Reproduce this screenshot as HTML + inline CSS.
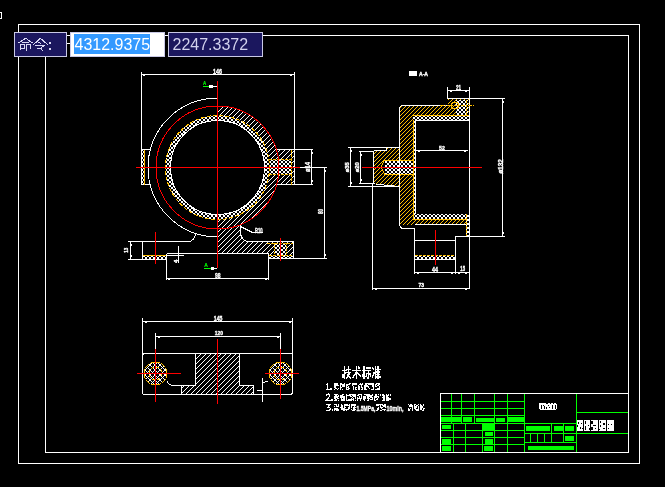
<!DOCTYPE html>
<html><head><meta charset="utf-8">
<style>
html,body{margin:0;padding:0;background:#000;width:665px;height:487px;overflow:hidden}
svg{display:block;will-change:transform}
.t{font-family:"Liberation Sans",sans-serif;fill:#fff}
.d text{font-weight:bold;stroke:#fff;stroke-width:0.35}
</style></head>
<body>
<svg width="665" height="487" viewBox="0 0 665 487" shape-rendering="crispEdges">
<defs>
<pattern id="hw" width="5" height="5" patternUnits="userSpaceOnUse"><g fill="#fff"><rect x="4" y="0" width="1" height="1"/><rect x="3" y="1" width="1" height="1"/><rect x="2" y="2" width="1" height="1"/><rect x="1" y="3" width="1" height="1"/><rect x="0" y="4" width="1" height="1"/></g></pattern>
<pattern id="hy" width="4" height="4" patternUnits="userSpaceOnUse"><g fill="#ffbf00"><rect x="3" y="0" width="1" height="1"/><rect x="2" y="1" width="1" height="1"/><rect x="1" y="2" width="1" height="1"/><rect x="0" y="3" width="1" height="1"/></g></pattern>
<pattern id="xw" width="4" height="4" patternUnits="userSpaceOnUse"><g fill="#fff"><rect x="0" y="0" width="1" height="1"/><rect x="1" y="1" width="1" height="1"/><rect x="2" y="2" width="1" height="1"/><rect x="3" y="3" width="1" height="1"/><rect x="3" y="0" width="1" height="1"/><rect x="2" y="1" width="1" height="1"/><rect x="1" y="2" width="1" height="1"/><rect x="0" y="3" width="1" height="1"/></g></pattern>
<pattern id="xn" width="5" height="5" patternUnits="userSpaceOnUse"><g fill="#fff"><rect x="0" y="0" width="1" height="1"/><rect x="1" y="1" width="1" height="1"/><rect x="2" y="2" width="1" height="1"/><rect x="3" y="3" width="1" height="1"/><rect x="4" y="4" width="1" height="1"/><rect x="4" y="0" width="1" height="1"/><rect x="3" y="1" width="1" height="1"/><rect x="1" y="3" width="1" height="1"/><rect x="0" y="4" width="1" height="1"/></g></pattern>
</defs>
<rect width="665" height="487" fill="#000"/>

<!-- frames -->
<g fill="none" stroke="#fff" stroke-width="1" shape-rendering="crispEdges">
<rect x="-5.5" y="12.5" width="7" height="6"/>
<rect x="18.5" y="24.5" width="621" height="439"/>
<rect x="45.5" y="35.5" width="583" height="417"/>
<line x1="67" y1="43.5" x2="70" y2="43.5"/>
</g>

<!-- TOPVIEW -->
<g id="top">
<!-- ring crosshatch -->
<path d="M217.5 115.5 A52 52 0 1 1 217.49 115.5 Z M217.5 120.5 A47 47 0 1 0 217.51 120.5 Z" fill="url(#xw)" fill-rule="evenodd"/>
<!-- hatched right half section -->
<path d="M217.5 106 A61.5 61.5 0 0 1 240.5 224.5 L240.5 232 C240.5 237 243.5 241.5 248.5 241.5 L293.5 241.5 L293.5 258.5 L268.5 258.5 L268.5 253.5 L217.5 253.5 L217.5 219.5 A52 52 0 0 0 217.5 115.5 Z" fill="url(#hw)"/>
<rect x="270" y="149.5" width="24.5" height="35" fill="url(#hw)"/>
<rect x="269" y="160" width="22" height="14.5" fill="#000"/><rect x="269" y="160" width="22" height="14.5" fill="url(#xw)"/>
<!-- left boss -->
<rect x="141.5" y="149.5" width="9" height="35" fill="#000"/>
<rect x="142" y="150" width="2.5" height="34" fill="url(#xw)"/>
<!-- right flange dotted -->
<rect x="275" y="244" width="11" height="11" fill="#000"/>
<rect x="275" y="244" width="11" height="11" fill="url(#xw)"/>
<rect x="269" y="256" width="24" height="2.5" fill="#000"/>
<rect x="269" y="256" width="24" height="2.5" fill="url(#xw)"/>
<!-- left flange dotted -->
<rect x="143" y="256" width="23" height="3.5" fill="url(#xw)"/>
<g fill="none" stroke="#fff" stroke-width="1">
<circle cx="217.5" cy="167.5" r="47"/>
<path d="M217.5 98 A69.5 69.5 0 0 0 217.5 237"/>
<path d="M196 233.5 Q194 241.5 188 241.5"/>
<path d="M240.5 224.5 L240.5 232 C240.5 237 243.5 241.5 248.5 241.5"/>
</g>
<g fill="none" stroke="#fff" stroke-width="1" shape-rendering="crispEdges">
<!-- 146 dim -->
<line x1="141.5" y1="74.5" x2="294.5" y2="74.5"/>
<line x1="141.5" y1="72" x2="141.5" y2="149.5"/>
<line x1="294.5" y1="72" x2="294.5" y2="149.5"/>
<!-- left boss -->
<path d="M150.5 149.5 H141.5 V184.5 H150.5"/>
<!-- right boss -->
<path d="M276 149.5 H294.5 V184.5 H276"/>
<!-- phi14 dim -->
<line x1="294.5" y1="149.5" x2="313" y2="149.5"/>
<line x1="294.5" y1="184.5" x2="313" y2="184.5"/>
<line x1="311.5" y1="149.5" x2="311.5" y2="184.5"/>
<!-- 80 dim -->
<line x1="300" y1="167.5" x2="327" y2="167.5"/>
<line x1="293.5" y1="258.5" x2="327" y2="258.5"/>
<line x1="324.5" y1="167.5" x2="324.5" y2="258.5"/>
<!-- left flange -->
<line x1="128" y1="241.5" x2="188" y2="241.5"/>
<line x1="128" y1="259.5" x2="166.5" y2="259.5"/>
<line x1="142.5" y1="241.5" x2="142.5" y2="259.5"/>
<line x1="130.5" y1="241.5" x2="130.5" y2="259.5"/>
<!-- base -->
<line x1="166.5" y1="253.5" x2="268.5" y2="253.5"/>
<line x1="166.5" y1="253.5" x2="166.5" y2="280"/>
<line x1="268.5" y1="253.5" x2="268.5" y2="280"/>
<line x1="166.5" y1="278.5" x2="268.5" y2="278.5"/>
<!-- 4 dim -->
<line x1="178.5" y1="246" x2="178.5" y2="263"/>
<line x1="166.5" y1="255.5" x2="184" y2="255.5"/>
<!-- right flange -->
<path d="M248.5 241.5 H293.5 V258.5 H268.5 V253.5"/>
<!-- R10 leader -->
<path d="M240.5 226.5 L252.5 232.5 H263"/>
<!-- A markers white parts -->
<line x1="213" y1="86.5" x2="217" y2="86.5"/>
<rect x="209" y="85" width="4" height="3" fill="#fff" stroke="none"/>
<line x1="214" y1="268.5" x2="217" y2="268.5"/>
<rect x="210.5" y="267" width="3.7" height="3" fill="#fff" stroke="none"/>
</g>
<!-- yellow -->
<g fill="none" stroke="#ffbf00" stroke-width="1">
<circle cx="217.5" cy="167.5" r="52" stroke-dasharray="4 2"/>
<g shape-rendering="crispEdges">
<line x1="144.5" y1="149.5" x2="144.5" y2="184.5"/>
<path d="M268.5 159.5 H291.5 M268.5 174.5 H291.5 M291.5 149.5 V184.5" stroke-dasharray="3 1"/>
<line x1="143" y1="255.5" x2="166" y2="255.5"/>
<line x1="267" y1="243.5" x2="293" y2="243.5" stroke-dasharray="3 1"/>
<line x1="269" y1="255.5" x2="293" y2="255.5" stroke-dasharray="3 1"/>
<line x1="274.5" y1="243" x2="274.5" y2="255" stroke-dasharray="2 1"/>
<line x1="286.5" y1="243" x2="286.5" y2="255" stroke-dasharray="2 1"/>
</g>
</g>
<!-- red -->
<g fill="none" stroke="#ff0000" stroke-width="1">
<circle cx="217.5" cy="167.5" r="61.5"/>
<g shape-rendering="crispEdges">
<line x1="136" y1="167.5" x2="300" y2="167.5"/>
<line x1="217.5" y1="81" x2="217.5" y2="268"/>
<line x1="155.5" y1="232" x2="155.5" y2="264"/>
<line x1="280.5" y1="237.5" x2="280.5" y2="261"/>
</g>
</g>
<!-- green A markers -->
<g stroke="#00ff00" stroke-width="1" shape-rendering="crispEdges">
<line x1="203" y1="86.5" x2="209" y2="86.5"/>
<line x1="204" y1="268.5" x2="210.5" y2="268.5"/>
</g>
<g class="t d" font-size="6">
<text x="203" y="84.8" font-size="6" textLength="3.2" lengthAdjust="spacingAndGlyphs" style="fill:#00ff00;stroke:#00ff00;stroke-width:0.2">A</text>
<text x="204.2" y="267" font-size="6" textLength="3.6" lengthAdjust="spacingAndGlyphs" style="fill:#00ff00;stroke:#00ff00;stroke-width:0.2">A</text>
<text x="213" y="73.8" font-size="6.8" textLength="9" lengthAdjust="spacingAndGlyphs">146</text>
<text x="215" y="278" font-size="6.3" textLength="5.5" lengthAdjust="spacingAndGlyphs">98</text>
<text x="255" y="232.6" font-size="7.3" textLength="7.7" lengthAdjust="spacingAndGlyphs">R10</text>
<text transform="translate(309.8 172) rotate(-90)" font-size="6.3" textLength="10" lengthAdjust="spacingAndGlyphs">ø14</text>
<text transform="translate(323.2 214) rotate(-90)" font-size="6.3" textLength="5" lengthAdjust="spacingAndGlyphs">80</text>
<text transform="translate(127.6 252.8) rotate(-90)" font-size="5.5" textLength="5" lengthAdjust="spacingAndGlyphs">13</text>
<text transform="translate(178 263) rotate(-90)" font-size="6">4</text>
</g>
</g>
<!-- SECTION -->
<g id="sec">
<!-- yellow hatched body -->
<path d="M402.5 105.5 H447.5 V98.5 H469.5 V115.5 H413 V219 H466 V224.5 H403 Q399.5 224.5 399.5 221 V186.5 L386 185.3 L375.5 184 Q373 184 373 181 V153 Q373 150.5 375.5 150.5 H386 V147.5 H399.5 V108.5 Q399.5 105.5 402.5 105.5 Z" fill="url(#hy)"/>
<!-- bore -->
<path d="M384.5 160 H413 V174 H384.5 L381 167 Z" fill="#000" stroke="#ffbf00" stroke-width="1"/>
<rect x="385" y="160.5" width="28" height="13" fill="url(#xw)"/>
<!-- dotted bands -->
<rect x="413" y="115.5" width="56" height="5" fill="url(#xw)"/>
<rect x="413" y="115.5" width="2.5" height="104" fill="url(#xw)"/>
<rect x="413" y="214" width="53" height="5" fill="url(#xw)"/>
<rect x="466" y="214" width="3" height="22" fill="url(#xw)"/>
<rect x="456" y="100" width="12" height="15" fill="#000"/><rect x="456" y="100" width="12" height="15" fill="url(#xw)"/><circle cx="455" cy="105.5" r="3.5" fill="none" stroke="#ffbf00" stroke-width="1"/>
<rect x="415" y="255.5" width="40" height="4" fill="url(#xw)"/>
<g fill="none" stroke="#fff" stroke-width="1" shape-rendering="crispEdges">
<!-- outline -->
<path d="M447.5 105.5 H402.5 Q399.5 105.5 399.5 108.5 V223 Q399.5 228.5 403 228.5 H414.5 V274 M386 147.5 V150.5 H375.5 Q373 150.5 373 153 V181 Q373 184 375.5 184 L386 185.3 L399.5 186.5"/>
<path d="M447.5 87 V98.5 H505 M469.5 87 V289 M415.5 120.5 H469 M415.5 120.5 V214"/>
<line x1="414.5" y1="224.5" x2="466" y2="224.5"/>
<!-- leg -->
<path d="M455.5 274 V236.5 H505"/>
<line x1="414.5" y1="240.5" x2="455.5" y2="240.5"/>
<line x1="414.5" y1="259.5" x2="455.5" y2="259.5"/>
<!-- dims -->
<line x1="447.5" y1="90.5" x2="469.5" y2="90.5"/>
<line x1="416" y1="150.5" x2="468" y2="150.5"/>
<line x1="502.5" y1="98.5" x2="502.5" y2="236.5"/>
<line x1="414.5" y1="272.5" x2="469.5" y2="272.5"/>
<line x1="372.5" y1="288.5" x2="469.5" y2="288.5"/>
<line x1="372.5" y1="184" x2="372.5" y2="290"/>
<line x1="348" y1="147.5" x2="399.5" y2="147.5"/>
<line x1="348" y1="186.5" x2="399.5" y2="186.5"/>
<line x1="350.5" y1="147.5" x2="350.5" y2="186.5"/>
<line x1="359" y1="151.5" x2="373" y2="151.5"/>
<line x1="359" y1="183.5" x2="373" y2="183.5"/>
<line x1="360.5" y1="151.5" x2="360.5" y2="183.5"/>
<rect x="409" y="71" width="8" height="4.5" fill="#fff" stroke="none"/>
</g>
<g fill="none" stroke="#ffbf00" stroke-width="1" shape-rendering="crispEdges">
<line x1="440" y1="105.5" x2="475" y2="105.5" stroke-dasharray="4 1 1 1"/>
<line x1="466.5" y1="100" x2="466.5" y2="115" stroke-dasharray="3 1"/><line x1="466.5" y1="214" x2="466.5" y2="236" stroke-dasharray="3 1"/>
<line x1="415" y1="255.5" x2="455" y2="255.5" stroke-dasharray="3 1"/>
<line x1="413.5" y1="120" x2="413.5" y2="219"/>
<line x1="413" y1="219.5" x2="466" y2="219.5"/>
<line x1="413" y1="115.5" x2="469" y2="115.5"/>
</g>
<g stroke="#ff0000" stroke-width="1" shape-rendering="crispEdges">
<line x1="362" y1="167.5" x2="482" y2="167.5"/>
<line x1="435.5" y1="230" x2="435.5" y2="265"/>
</g>
<g class="t d" font-size="6">
<text x="419" y="75.5" font-size="5" textLength="9" lengthAdjust="spacingAndGlyphs">A-A</text>
<text x="456" y="89.6" font-size="6.3" textLength="5" lengthAdjust="spacingAndGlyphs">21</text>
<text x="439" y="149.5" font-size="5.8" textLength="5.8" lengthAdjust="spacingAndGlyphs">52</text>
<text x="432" y="271.9" font-size="6.5" textLength="6" lengthAdjust="spacingAndGlyphs">44</text>
<text x="460.3" y="271.4" font-size="6.3" textLength="4.7" lengthAdjust="spacingAndGlyphs">15</text>
<text x="418.4" y="287.3" font-size="6" textLength="5.6" lengthAdjust="spacingAndGlyphs">73</text>
<text transform="translate(502.6 173.6) rotate(-90)" font-size="7.5" textLength="14.5" lengthAdjust="spacingAndGlyphs">ø132</text>
<text transform="translate(349.2 172.2) rotate(-90)" font-size="5.8" textLength="10" lengthAdjust="spacingAndGlyphs">ø35</text>
<text transform="translate(359.4 172.2) rotate(-90)" font-size="5" textLength="10" lengthAdjust="spacingAndGlyphs">ø20</text>
</g>
</g>
<!-- PLAN -->
<g id="plan">
<path d="M195.5 353.5 H239.5 V385.5 H253.5 V394.5 H181.5 V385.5 H195.5 Z" fill="url(#hw)"/>
<circle cx="155.5" cy="373.5" r="11.5" fill="url(#xn)"/>
<circle cx="280.5" cy="373.5" r="11.5" fill="url(#xn)"/>
<g fill="none" stroke="#fff" stroke-width="1" shape-rendering="crispEdges">
<rect x="142.5" y="353.5" width="150" height="41" rx="2.5"/>
<path d="M195.5 353.5 V385.5 H181.5 V394.5 M239.5 353.5 V385.5 H253.5 V394.5 M181.5 385.5 H173"/>
<path d="M167 381.5 Q169 385.5 174 385.5"/>
<line x1="142.5" y1="321.5" x2="292.5" y2="321.5"/>
<line x1="142.5" y1="318" x2="142.5" y2="353.5"/>
<line x1="292.5" y1="318" x2="292.5" y2="353.5"/>
<line x1="155.5" y1="336.5" x2="280.5" y2="336.5"/>
<line x1="155.5" y1="333" x2="155.5" y2="350"/>
<line x1="280.5" y1="333" x2="280.5" y2="350"/>
<line x1="262.5" y1="378" x2="262.5" y2="402"/>
<line x1="257" y1="390.5" x2="262.5" y2="390.5"/>
<path d="M263 383 L267.5 381"/>
</g>
<g fill="none" stroke="#ffbf00" stroke-width="1" shape-rendering="crispEdges">
<circle cx="155.5" cy="373.5" r="11.5" stroke-dasharray="5 1"/><circle cx="155.5" cy="373.5" r="6.5" stroke-dasharray="3 2"/>
<circle cx="280.5" cy="373.5" r="11.5" stroke-dasharray="5 1"/><circle cx="280.5" cy="373.5" r="6.5" stroke-dasharray="3 2"/>
</g>
<g stroke="#ff0000" stroke-width="1" shape-rendering="crispEdges">
<line x1="137" y1="373.5" x2="181" y2="373.5"/>
<line x1="155.5" y1="349" x2="155.5" y2="402"/>
<line x1="265" y1="373.5" x2="299" y2="373.5"/>
<line x1="280.5" y1="349" x2="280.5" y2="399"/>
<line x1="217.5" y1="339" x2="217.5" y2="404"/>
</g>
<g class="t d" font-size="6.5">
<text x="213.8" y="321.1" font-size="6.3" textLength="8.5" lengthAdjust="spacingAndGlyphs">145</text>
<text x="214.7" y="335.3" font-size="5.8" textLength="8.3" lengthAdjust="spacingAndGlyphs">120</text>
</g>
</g>
<!-- NOTES -->
<g fill="none" stroke="#fff" stroke-width="1.5" stroke-linecap="square">
<path d="M342.5 370.5 H346.5 M344.5 366.5 V378 L343 377 M342.5 375.5 L346 372.5 M346.5 369.5 H350.5 M348.5 366.5 V371.5 M346 372.5 H350 L346.5 378 M347.5 375 L350.5 378"/>
<path d="M353 370.5 H360.5 M356.5 366.5 V378.5 M356 372.5 L353 377.5 M357.5 372.5 L360.5 376.5 M358.5 367 L359 368"/>
<path d="M362.5 370.5 H366 M364 366.5 V378.5 M364 372.5 L362.5 376 M366.5 368 H370 M366 370.5 H370.5 M368.5 370.5 V378 L367.5 378 M367 373.5 L366 376.5 M370 373.5 L370.5 376"/>
<path d="M372.5 368 L373.5 369 M372.5 377 L374 373 M375.5 366.5 V378.5 M378 366.5 V378 M375.5 369.5 H380 M375.5 372 H379 M375.5 374.5 H379.5 M375.5 377 H380"/>
</g>
<g fill="#fff" font-family="Liberation Sans" font-size="7" font-weight="bold" stroke="#fff" stroke-width="0.35">

<text x="356.5" y="410.5" font-size="7.5" textLength="19" lengthAdjust="spacingAndGlyphs">1.5MPa,</text>
<text x="386.5" y="410.5" font-size="7.5" textLength="17" lengthAdjust="spacingAndGlyphs">10min,</text>
</g>
<g fill="none" stroke="#fff" stroke-width="1.2">
<path d="M327.5 383.5 V389.5 M326 385 L327.5 383.5 M326 389.5 H329.5"/>
<path d="M326 395.5 Q327 394 328.5 394 Q330.5 394.5 329.5 396.5 L326 400.5 H330.5"/>
<path d="M326 404.5 H330 L328 407 Q330.8 407.3 330.2 409.3 Q329 411 326 410.2"/>
</g>
<g fill="#fff"><rect x="330" y="388" width="1.5" height="1.5"/><rect x="331" y="399" width="1.5" height="1.5"/><rect x="331.5" y="409" width="1.5" height="1.5"/></g>
<g id="notes" shape-rendering="crispEdges"><rect x="334" y="383" width="5" height="7" fill="#fff"/><rect x="338" y="387" width="1" height="1" fill="#000"/><rect x="338" y="386" width="1" height="2" fill="#000"/><rect x="338" y="383" width="1" height="1" fill="#000"/><rect x="338" y="384" width="1" height="1" fill="#000"/><rect x="338" y="389" width="1" height="1" fill="#000"/><rect x="337" y="388" width="1" height="1" fill="#000"/><rect x="335" y="389" width="2" height="1" fill="#000"/><rect x="334" y="388" width="1" height="1" fill="#000"/><rect x="338" y="383" width="1" height="1" fill="#000"/><rect x="336" y="386" width="2" height="2" fill="#000"/><rect x="340" y="383" width="5" height="7" fill="#fff"/><rect x="343" y="388" width="2" height="2" fill="#000"/><rect x="341" y="385" width="1" height="1" fill="#000"/><rect x="341" y="386" width="1" height="1" fill="#000"/><rect x="343" y="389" width="1" height="1" fill="#000"/><rect x="343" y="387" width="1" height="1" fill="#000"/><rect x="344" y="387" width="1" height="1" fill="#000"/><rect x="342" y="388" width="1" height="1" fill="#000"/><rect x="344" y="388" width="1" height="2" fill="#000"/><rect x="342" y="387" width="1" height="2" fill="#000"/><rect x="341" y="388" width="1" height="2" fill="#000"/><rect x="342" y="383" width="2" height="1" fill="#000"/><rect x="343" y="383" width="1" height="1" fill="#000"/><rect x="346" y="383" width="5" height="7" fill="#fff"/><rect x="347" y="383" width="2" height="1" fill="#000"/><rect x="349" y="389" width="1" height="1" fill="#000"/><rect x="350" y="387" width="1" height="1" fill="#000"/><rect x="350" y="385" width="1" height="2" fill="#000"/><rect x="350" y="384" width="1" height="1" fill="#000"/><rect x="346" y="383" width="1" height="1" fill="#000"/><rect x="347" y="386" width="1" height="1" fill="#000"/><rect x="347" y="388" width="1" height="1" fill="#000"/><rect x="348" y="385" width="2" height="1" fill="#000"/><rect x="349" y="386" width="2" height="2" fill="#000"/><rect x="350" y="388" width="1" height="2" fill="#000"/><rect x="350" y="389" width="1" height="1" fill="#000"/><rect x="352" y="383" width="5" height="7" fill="#fff"/><rect x="353" y="385" width="1" height="1" fill="#000"/><rect x="356" y="385" width="1" height="2" fill="#000"/><rect x="352" y="389" width="1" height="1" fill="#000"/><rect x="352" y="386" width="1" height="2" fill="#000"/><rect x="352" y="388" width="1" height="2" fill="#000"/><rect x="355" y="385" width="1" height="2" fill="#000"/><rect x="356" y="388" width="1" height="1" fill="#000"/><rect x="352" y="387" width="1" height="1" fill="#000"/><rect x="354" y="385" width="2" height="2" fill="#000"/><rect x="354" y="387" width="1" height="2" fill="#000"/><rect x="353" y="385" width="1" height="1" fill="#000"/><rect x="354" y="389" width="1" height="1" fill="#000"/><rect x="358" y="383" width="5" height="7" fill="#fff"/><rect x="361" y="383" width="1" height="1" fill="#000"/><rect x="360" y="387" width="1" height="1" fill="#000"/><rect x="359" y="385" width="2" height="1" fill="#000"/><rect x="358" y="383" width="1" height="2" fill="#000"/><rect x="360" y="388" width="2" height="1" fill="#000"/><rect x="359" y="383" width="1" height="1" fill="#000"/><rect x="362" y="386" width="1" height="1" fill="#000"/><rect x="358" y="383" width="1" height="2" fill="#000"/><rect x="360" y="389" width="1" height="1" fill="#000"/><rect x="360" y="385" width="1" height="2" fill="#000"/><rect x="362" y="385" width="1" height="2" fill="#000"/><rect x="364" y="383" width="5" height="7" fill="#fff"/><rect x="366" y="387" width="2" height="1" fill="#000"/><rect x="366" y="388" width="1" height="1" fill="#000"/><rect x="367" y="387" width="1" height="1" fill="#000"/><rect x="367" y="384" width="1" height="1" fill="#000"/><rect x="367" y="389" width="2" height="1" fill="#000"/><rect x="368" y="388" width="1" height="1" fill="#000"/><rect x="367" y="389" width="1" height="1" fill="#000"/><rect x="368" y="385" width="1" height="1" fill="#000"/><rect x="368" y="385" width="1" height="1" fill="#000"/><rect x="364" y="383" width="1" height="2" fill="#000"/><rect x="367" y="387" width="1" height="1" fill="#000"/><rect x="367" y="388" width="1" height="1" fill="#000"/><rect x="369" y="383" width="5" height="7" fill="#fff"/><rect x="370" y="388" width="2" height="1" fill="#000"/><rect x="369" y="387" width="1" height="1" fill="#000"/><rect x="370" y="385" width="2" height="2" fill="#000"/><rect x="369" y="385" width="1" height="1" fill="#000"/><rect x="369" y="387" width="1" height="1" fill="#000"/><rect x="370" y="389" width="1" height="1" fill="#000"/><rect x="369" y="386" width="2" height="2" fill="#000"/><rect x="369" y="389" width="1" height="1" fill="#000"/><rect x="371" y="387" width="2" height="2" fill="#000"/><rect x="369" y="386" width="1" height="1" fill="#000"/><rect x="369" y="389" width="1" height="1" fill="#000"/><rect x="375" y="383" width="5" height="7" fill="#fff"/><rect x="375" y="383" width="1" height="1" fill="#000"/><rect x="375" y="387" width="2" height="2" fill="#000"/><rect x="377" y="384" width="1" height="1" fill="#000"/><rect x="377" y="386" width="2" height="2" fill="#000"/><rect x="379" y="385" width="1" height="1" fill="#000"/><rect x="376" y="385" width="1" height="1" fill="#000"/><rect x="376" y="387" width="2" height="1" fill="#000"/><rect x="375" y="387" width="1" height="1" fill="#000"/><rect x="377" y="386" width="2" height="2" fill="#000"/><rect x="334" y="394" width="5" height="7" fill="#fff"/><rect x="338" y="397" width="1" height="1" fill="#000"/><rect x="337" y="400" width="1" height="1" fill="#000"/><rect x="337" y="399" width="2" height="1" fill="#000"/><rect x="334" y="395" width="1" height="1" fill="#000"/><rect x="338" y="394" width="1" height="1" fill="#000"/><rect x="337" y="395" width="1" height="1" fill="#000"/><rect x="336" y="398" width="1" height="1" fill="#000"/><rect x="337" y="399" width="2" height="1" fill="#000"/><rect x="334" y="399" width="1" height="1" fill="#000"/><rect x="340" y="394" width="5" height="7" fill="#fff"/><rect x="343" y="395" width="2" height="1" fill="#000"/><rect x="340" y="398" width="1" height="1" fill="#000"/><rect x="343" y="395" width="1" height="1" fill="#000"/><rect x="340" y="394" width="2" height="1" fill="#000"/><rect x="342" y="398" width="1" height="1" fill="#000"/><rect x="340" y="400" width="1" height="1" fill="#000"/><rect x="340" y="398" width="1" height="2" fill="#000"/><rect x="344" y="394" width="1" height="2" fill="#000"/><rect x="344" y="395" width="1" height="1" fill="#000"/><rect x="346" y="394" width="5" height="7" fill="#fff"/><rect x="347" y="397" width="2" height="2" fill="#000"/><rect x="348" y="396" width="2" height="2" fill="#000"/><rect x="348" y="398" width="1" height="1" fill="#000"/><rect x="349" y="398" width="2" height="1" fill="#000"/><rect x="347" y="397" width="2" height="2" fill="#000"/><rect x="347" y="399" width="1" height="1" fill="#000"/><rect x="347" y="394" width="2" height="1" fill="#000"/><rect x="350" y="397" width="1" height="2" fill="#000"/><rect x="347" y="396" width="1" height="1" fill="#000"/><rect x="350" y="398" width="1" height="1" fill="#000"/><rect x="351" y="394" width="5" height="7" fill="#fff"/><rect x="354" y="398" width="1" height="2" fill="#000"/><rect x="352" y="396" width="1" height="1" fill="#000"/><rect x="354" y="400" width="1" height="1" fill="#000"/><rect x="352" y="398" width="1" height="1" fill="#000"/><rect x="353" y="397" width="2" height="1" fill="#000"/><rect x="354" y="399" width="1" height="2" fill="#000"/><rect x="354" y="398" width="1" height="2" fill="#000"/><rect x="354" y="399" width="2" height="1" fill="#000"/><rect x="351" y="397" width="1" height="1" fill="#000"/><rect x="351" y="395" width="1" height="1" fill="#000"/><rect x="352" y="400" width="1" height="1" fill="#000"/><rect x="357" y="394" width="5" height="7" fill="#fff"/><rect x="361" y="399" width="1" height="2" fill="#000"/><rect x="359" y="395" width="1" height="1" fill="#000"/><rect x="358" y="397" width="1" height="1" fill="#000"/><rect x="357" y="394" width="1" height="1" fill="#000"/><rect x="357" y="396" width="1" height="1" fill="#000"/><rect x="357" y="394" width="1" height="1" fill="#000"/><rect x="360" y="397" width="1" height="1" fill="#000"/><rect x="358" y="399" width="2" height="2" fill="#000"/><rect x="360" y="395" width="1" height="2" fill="#000"/><rect x="357" y="396" width="2" height="1" fill="#000"/><rect x="363" y="394" width="5" height="7" fill="#fff"/><rect x="366" y="398" width="1" height="1" fill="#000"/><rect x="367" y="399" width="1" height="1" fill="#000"/><rect x="366" y="396" width="1" height="2" fill="#000"/><rect x="363" y="400" width="1" height="1" fill="#000"/><rect x="366" y="398" width="1" height="1" fill="#000"/><rect x="365" y="399" width="1" height="2" fill="#000"/><rect x="364" y="395" width="2" height="1" fill="#000"/><rect x="363" y="394" width="1" height="2" fill="#000"/><rect x="365" y="399" width="2" height="2" fill="#000"/><rect x="368" y="394" width="5" height="7" fill="#fff"/><rect x="369" y="397" width="1" height="1" fill="#000"/><rect x="369" y="399" width="1" height="1" fill="#000"/><rect x="369" y="400" width="2" height="1" fill="#000"/><rect x="370" y="394" width="1" height="1" fill="#000"/><rect x="371" y="394" width="1" height="1" fill="#000"/><rect x="371" y="398" width="1" height="1" fill="#000"/><rect x="372" y="396" width="1" height="1" fill="#000"/><rect x="371" y="398" width="1" height="1" fill="#000"/><rect x="371" y="400" width="1" height="1" fill="#000"/><rect x="370" y="398" width="1" height="1" fill="#000"/><rect x="372" y="400" width="1" height="1" fill="#000"/><rect x="374" y="394" width="5" height="7" fill="#fff"/><rect x="375" y="398" width="2" height="1" fill="#000"/><rect x="375" y="398" width="1" height="2" fill="#000"/><rect x="377" y="400" width="1" height="1" fill="#000"/><rect x="378" y="395" width="1" height="1" fill="#000"/><rect x="376" y="400" width="1" height="1" fill="#000"/><rect x="377" y="397" width="1" height="1" fill="#000"/><rect x="378" y="398" width="1" height="1" fill="#000"/><rect x="378" y="399" width="1" height="2" fill="#000"/><rect x="377" y="394" width="1" height="2" fill="#000"/><rect x="374" y="394" width="1" height="2" fill="#000"/><rect x="380" y="394" width="5" height="7" fill="#fff"/><rect x="381" y="398" width="2" height="2" fill="#000"/><rect x="381" y="395" width="1" height="2" fill="#000"/><rect x="380" y="400" width="2" height="1" fill="#000"/><rect x="380" y="398" width="1" height="1" fill="#000"/><rect x="381" y="397" width="1" height="1" fill="#000"/><rect x="380" y="396" width="1" height="2" fill="#000"/><rect x="384" y="394" width="1" height="1" fill="#000"/><rect x="382" y="396" width="1" height="1" fill="#000"/><rect x="381" y="394" width="1" height="2" fill="#000"/><rect x="380" y="399" width="1" height="1" fill="#000"/><rect x="380" y="400" width="2" height="1" fill="#000"/><rect x="381" y="397" width="1" height="1" fill="#000"/><rect x="386" y="394" width="5" height="7" fill="#fff"/><rect x="389" y="394" width="1" height="1" fill="#000"/><rect x="389" y="397" width="1" height="1" fill="#000"/><rect x="390" y="400" width="1" height="1" fill="#000"/><rect x="389" y="396" width="2" height="1" fill="#000"/><rect x="389" y="400" width="2" height="1" fill="#000"/><rect x="389" y="395" width="1" height="1" fill="#000"/><rect x="388" y="396" width="2" height="1" fill="#000"/><rect x="390" y="396" width="1" height="2" fill="#000"/><rect x="387" y="394" width="1" height="1" fill="#000"/><rect x="334" y="404" width="5" height="7" fill="#fff"/><rect x="335" y="410" width="1" height="1" fill="#000"/><rect x="335" y="405" width="1" height="1" fill="#000"/><rect x="338" y="407" width="1" height="2" fill="#000"/><rect x="334" y="405" width="1" height="1" fill="#000"/><rect x="337" y="407" width="1" height="1" fill="#000"/><rect x="334" y="407" width="1" height="1" fill="#000"/><rect x="337" y="404" width="1" height="2" fill="#000"/><rect x="335" y="407" width="2" height="1" fill="#000"/><rect x="337" y="404" width="1" height="1" fill="#000"/><rect x="334" y="407" width="1" height="1" fill="#000"/><rect x="335" y="406" width="1" height="2" fill="#000"/><rect x="340" y="404" width="5" height="7" fill="#fff"/><rect x="340" y="408" width="1" height="1" fill="#000"/><rect x="342" y="410" width="1" height="1" fill="#000"/><rect x="343" y="405" width="1" height="2" fill="#000"/><rect x="340" y="410" width="1" height="1" fill="#000"/><rect x="342" y="404" width="2" height="1" fill="#000"/><rect x="340" y="408" width="1" height="2" fill="#000"/><rect x="340" y="404" width="1" height="2" fill="#000"/><rect x="340" y="405" width="1" height="2" fill="#000"/><rect x="343" y="404" width="1" height="1" fill="#000"/><rect x="341" y="410" width="1" height="1" fill="#000"/><rect x="343" y="406" width="1" height="2" fill="#000"/><rect x="345" y="404" width="5" height="7" fill="#fff"/><rect x="347" y="410" width="2" height="1" fill="#000"/><rect x="345" y="406" width="2" height="1" fill="#000"/><rect x="345" y="408" width="1" height="1" fill="#000"/><rect x="349" y="409" width="1" height="1" fill="#000"/><rect x="348" y="410" width="1" height="1" fill="#000"/><rect x="346" y="406" width="2" height="1" fill="#000"/><rect x="346" y="407" width="2" height="2" fill="#000"/><rect x="347" y="406" width="2" height="1" fill="#000"/><rect x="348" y="404" width="1" height="1" fill="#000"/><rect x="345" y="410" width="1" height="1" fill="#000"/><rect x="345" y="406" width="1" height="1" fill="#000"/><rect x="349" y="410" width="1" height="1" fill="#000"/><rect x="351" y="404" width="5" height="7" fill="#fff"/><rect x="353" y="406" width="1" height="1" fill="#000"/><rect x="352" y="407" width="1" height="1" fill="#000"/><rect x="355" y="406" width="1" height="1" fill="#000"/><rect x="351" y="410" width="1" height="1" fill="#000"/><rect x="352" y="409" width="1" height="1" fill="#000"/><rect x="352" y="408" width="1" height="1" fill="#000"/><rect x="352" y="406" width="1" height="1" fill="#000"/><rect x="355" y="408" width="1" height="1" fill="#000"/><rect x="355" y="410" width="1" height="1" fill="#000"/><rect x="352" y="408" width="1" height="1" fill="#000"/><rect x="351" y="408" width="1" height="1" fill="#000"/><rect x="352" y="406" width="1" height="1" fill="#000"/><rect x="376" y="404" width="5" height="7" fill="#fff"/><rect x="379" y="405" width="1" height="2" fill="#000"/><rect x="379" y="410" width="1" height="1" fill="#000"/><rect x="379" y="408" width="2" height="2" fill="#000"/><rect x="376" y="406" width="2" height="2" fill="#000"/><rect x="379" y="405" width="1" height="1" fill="#000"/><rect x="379" y="406" width="1" height="2" fill="#000"/><rect x="378" y="406" width="2" height="1" fill="#000"/><rect x="376" y="408" width="1" height="2" fill="#000"/><rect x="379" y="410" width="1" height="1" fill="#000"/><rect x="380" y="408" width="1" height="1" fill="#000"/><rect x="378" y="410" width="1" height="1" fill="#000"/><rect x="377" y="407" width="1" height="1" fill="#000"/><rect x="381" y="404" width="5" height="7" fill="#fff"/><rect x="382" y="406" width="1" height="1" fill="#000"/><rect x="382" y="410" width="2" height="1" fill="#000"/><rect x="385" y="410" width="1" height="1" fill="#000"/><rect x="382" y="408" width="2" height="1" fill="#000"/><rect x="384" y="407" width="1" height="2" fill="#000"/><rect x="383" y="404" width="1" height="1" fill="#000"/><rect x="381" y="409" width="1" height="1" fill="#000"/><rect x="385" y="408" width="1" height="1" fill="#000"/><rect x="381" y="405" width="1" height="2" fill="#000"/><rect x="383" y="407" width="1" height="1" fill="#000"/><rect x="383" y="407" width="1" height="2" fill="#000"/><rect x="408" y="404" width="5" height="7" fill="#fff"/><rect x="409" y="404" width="1" height="1" fill="#000"/><rect x="411" y="407" width="1" height="1" fill="#000"/><rect x="409" y="407" width="1" height="2" fill="#000"/><rect x="411" y="410" width="1" height="1" fill="#000"/><rect x="409" y="407" width="2" height="1" fill="#000"/><rect x="411" y="408" width="1" height="2" fill="#000"/><rect x="410" y="410" width="1" height="1" fill="#000"/><rect x="408" y="407" width="1" height="1" fill="#000"/><rect x="410" y="409" width="1" height="1" fill="#000"/><rect x="408" y="405" width="1" height="2" fill="#000"/><rect x="412" y="404" width="1" height="1" fill="#000"/><rect x="414" y="404" width="5" height="7" fill="#fff"/><rect x="415" y="410" width="1" height="1" fill="#000"/><rect x="416" y="408" width="2" height="1" fill="#000"/><rect x="415" y="405" width="1" height="1" fill="#000"/><rect x="417" y="406" width="1" height="1" fill="#000"/><rect x="417" y="406" width="1" height="1" fill="#000"/><rect x="417" y="407" width="1" height="2" fill="#000"/><rect x="416" y="404" width="2" height="1" fill="#000"/><rect x="414" y="409" width="1" height="2" fill="#000"/><rect x="418" y="405" width="1" height="1" fill="#000"/><rect x="420" y="404" width="5" height="7" fill="#fff"/><rect x="424" y="405" width="1" height="1" fill="#000"/><rect x="421" y="404" width="2" height="1" fill="#000"/><rect x="420" y="410" width="2" height="1" fill="#000"/><rect x="424" y="409" width="1" height="2" fill="#000"/><rect x="422" y="408" width="1" height="2" fill="#000"/><rect x="422" y="405" width="1" height="1" fill="#000"/><rect x="424" y="404" width="1" height="1" fill="#000"/><rect x="423" y="407" width="1" height="1" fill="#000"/><rect x="423" y="406" width="1" height="2" fill="#000"/><rect x="424" y="406" width="1" height="1" fill="#000"/><rect x="423" y="407" width="2" height="1" fill="#000"/></g>
<g shape-rendering="crispEdges">
<g fill="#fff">
<rect x="577" y="420" width="6" height="11"/><rect x="584" y="420" width="6" height="11"/><rect x="591" y="420" width="6.5" height="11"/><rect x="599" y="420" width="6.5" height="11"/><rect x="606.5" y="420" width="7" height="11"/>
</g>
<g fill="#000">
<rect x="578" y="421.5" width="1" height="2"/><rect x="580.5" y="423" width="1.5" height="1"/><rect x="577" y="425" width="1" height="1.5"/><rect x="579.5" y="426.5" width="1" height="2"/><rect x="582" y="428" width="1" height="1"/>
<rect x="585" y="421" width="1" height="3"/><rect x="587.5" y="424.5" width="1" height="1"/><rect x="585" y="426" width="1" height="4"/><rect x="589" y="428" width="1" height="2"/>
<rect x="591" y="421" width="1.5" height="3"/><rect x="592.5" y="425" width="3" height="1"/><rect x="591" y="427" width="1.5" height="3"/><rect x="594.5" y="428" width="1" height="1"/>
<rect x="600" y="421" width="1" height="2"/><rect x="603" y="422.5" width="1.5" height="2"/><rect x="600" y="425" width="1" height="2"/><rect x="603" y="427.5" width="1.5" height="1.5"/><rect x="599" y="429" width="1" height="1"/>
<rect x="608" y="424" width="1" height="1"/><rect x="610.5" y="424" width="1" height="1"/><rect x="608" y="427.5" width="1" height="1"/>
</g>
</g>


<!-- TITLE -->
<g id="title" shape-rendering="crispEdges">
<g stroke="#00ff00" stroke-width="1" fill="none">
<path d="M451.5 393.5 V423 M461.5 393.5 V423 M474.5 393.5 V423 M494.5 393.5 V452 M507.5 393.5 V452 M524.5 393.5 V452 M576.5 393.5 V452"/>
<path d="M453.5 423 V452 M465.5 423 V452 M482.5 423 V452"/>
<path d="M440.5 401.5 H524.5 M440.5 408.5 H524.5 M440.5 415.5 H524.5 M440.5 423.5 H576.5 M440.5 430.5 H524.5 M440.5 437.5 H524.5 M440.5 444.5 H524.5"/>
<path d="M524.5 433.5 H628 M524.5 442.5 H576.5 M576.5 412.5 H628"/>
<path d="M551.5 423.5 V442.5 M563.5 423.5 V442.5 M530.5 433.5 V442.5 M537.5 433.5 V442.5 M544.5 433.5 V442.5"/>
</g>
<g fill="#00ff00">
<rect x="441" y="417" width="9.5" height="5"/>
<rect x="452" y="417" width="9" height="5"/>
<rect x="463" y="417" width="9" height="5"/>
<rect x="476" y="418" width="18" height="4"/>
<rect x="496" y="418" width="9" height="4"/>
<rect x="508" y="417" width="16.5" height="5"/>
<rect x="442" y="425" width="9" height="4"/>
<rect x="482.5" y="424" width="11.5" height="6.5"/>
<rect x="485" y="432" width="8" height="4"/>
<rect x="442" y="439" width="9" height="5.5"/>
<rect x="485" y="439" width="8" height="5.5"/>
<rect x="442" y="446" width="9" height="5"/>
<rect x="484" y="446" width="9" height="5"/>
<rect x="526" y="426" width="24" height="5"/>
<rect x="554" y="426" width="8.5" height="5"/>
<rect x="565" y="426" width="9" height="5"/>
<rect x="565" y="436" width="9" height="5"/>
<rect x="528" y="446" width="46" height="4"/>
</g>
<g fill="none" stroke="#fff" stroke-width="1">
<path d="M440.5 452 V393.5 H628"/>
</g>
</g>
<g shape-rendering="crispEdges"><rect x="539" y="403" width="18" height="7" fill="#fff"/><rect x="546" y="403" width="2" height="1" fill="#000"/><rect x="550" y="403" width="1" height="1" fill="#000"/><rect x="553" y="403" width="1" height="1" fill="#000"/><rect x="556" y="403" width="1" height="1" fill="#000"/>
<g fill="#000"><rect x="541" y="405" width="1" height="4"/><rect x="543" y="405" width="1" height="1"/><rect x="544" y="406" width="1" height="3"/><rect x="546" y="407" width="1" height="2"/><rect x="548" y="405" width="1" height="1"/><rect x="549" y="407" width="1" height="1"/><rect x="552" y="405" width="1" height="4"/><rect x="555" y="405" width="1" height="4"/><rect x="539" y="409" width="1" height="1"/><rect x="556" y="409" width="1" height="1"/></g></g>

<g fill="#fff" shape-rendering="crispEdges"><rect x="143.0" y="73.5" width="2" height="2"/><rect x="290.0" y="73.5" width="2" height="2"/><rect x="168.0" y="277.5" width="2" height="2"/><rect x="265.0" y="277.5" width="2" height="2"/><rect x="144.5" y="320.5" width="2" height="2"/><rect x="288.5" y="320.5" width="2" height="2"/><rect x="157.5" y="335.5" width="2" height="2"/><rect x="276.5" y="335.5" width="2" height="2"/><rect x="449.5" y="89.5" width="2" height="2"/><rect x="465.0" y="89.5" width="2" height="2"/><rect x="417.0" y="271.5" width="2" height="2"/><rect x="451.0" y="271.5" width="2" height="2"/><rect x="457.5" y="271.5" width="2" height="2"/><rect x="465.0" y="271.5" width="2" height="2"/><rect x="465.0" y="287.5" width="2" height="2"/><rect x="374.5" y="287.5" width="2" height="2"/><rect x="418.0" y="149.5" width="2" height="2"/><rect x="464.0" y="149.5" width="2" height="2"/><rect x="501.5" y="101.0" width="2" height="2"/><rect x="501.5" y="232.0" width="2" height="2"/><rect x="323.5" y="170.0" width="2" height="2"/><rect x="323.5" y="254.0" width="2" height="2"/><rect x="310.5" y="152.0" width="2" height="2"/><rect x="310.5" y="180.0" width="2" height="2"/><rect x="349.5" y="150.0" width="2" height="2"/><rect x="349.5" y="182.0" width="2" height="2"/><rect x="359.5" y="154.0" width="2" height="2"/><rect x="359.5" y="179.0" width="2" height="2"/><rect x="129.5" y="244.0" width="2" height="2"/><rect x="129.5" y="255.0" width="2" height="2"/></g>
<!-- command boxes -->
<g shape-rendering="crispEdges">
<rect x="14.5" y="32.5" width="52" height="24" fill="#1b175e" stroke="#c9c9e6"/>
<rect x="70.5" y="32.5" width="94" height="24" fill="#fff" stroke="#c9c9e6"/>
<rect x="74" y="34" width="76" height="20" fill="#3399ff"/>
<rect x="168.5" y="32.5" width="94" height="24" fill="#1b175e" stroke="#c9c9e6"/>
</g>
<text class="t" x="74.5" y="50" font-size="16">4312.9375</text>
<text class="t" x="172.5" y="50" font-size="16" style="fill:#d2d2ee">2247.3372</text>
<!-- cmd glyphs -->
<g fill="none" stroke="#d8d8f2" stroke-width="1">
<path d="M18.5 43 L25.7 38.2 L32.5 43 M21.5 42.5 H29 M20 44.5 H24 V48 H20 Z M20 48 V49.5 M26 44.5 V50.6 M26 44.5 H30.3 V48.5 H29.5"/>
<path d="M33.5 44.7 L40.4 38.2 L47.7 44.7 M38.7 42 L40.9 44.1 M35 45.5 H44.2 L40 48.5 M36.6 48.5 H41 L42.5 50.6"/>
</g>
<g fill="#d8d8f2"><rect x="49" y="42.2" width="2" height="2"/><rect x="49" y="48.2" width="2" height="2"/></g>
</svg>
</body></html>
